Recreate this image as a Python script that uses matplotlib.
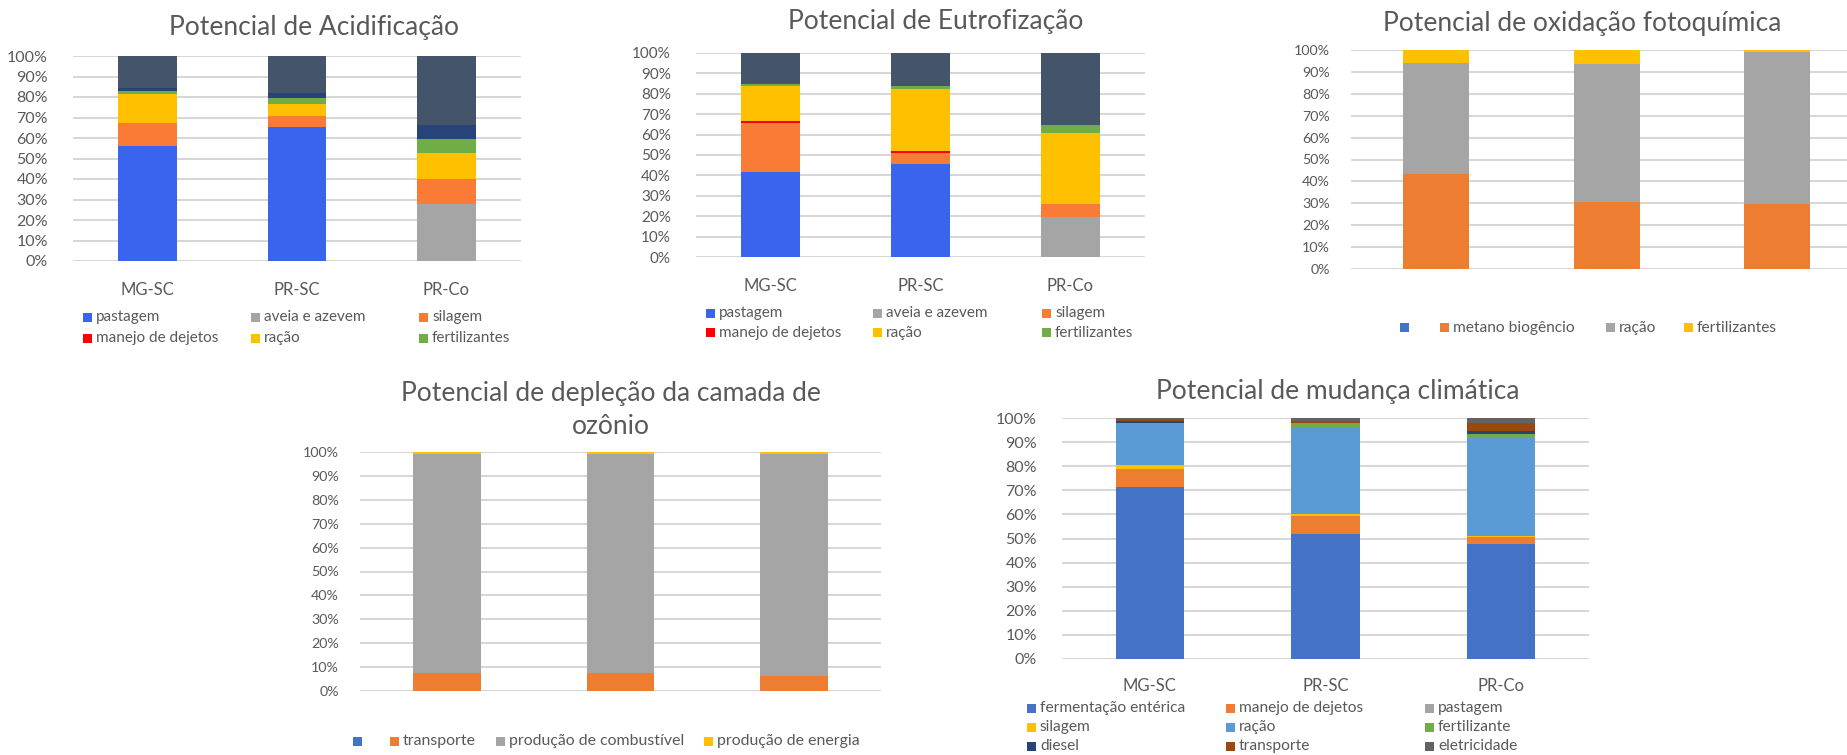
import matplotlib
matplotlib.use("Agg")
import matplotlib.pyplot as plt
from matplotlib.patches import Rectangle
import numpy as np

plt.rcParams['font.family'] = ['Lato', 'DejaVu Sans']

W, H = 1847, 755
TXT = '#595959'
GRID = '#d6d6d6'

categories = ["MG-SC", "PR-SC", "PR-Co"]
pct_ticks = [0, 10, 20, 30, 40, 50, 60, 70, 80, 90, 100]
pct_labels = [f"{t}%" for t in pct_ticks]

# --- Potencial de Acidificação (% contribution) ---
acid_labels = ["pastagem", "aveia e azevem", "silagem", "manejo de dejetos", "ração", "fertilizantes"]
acid_pastagem = [56.1, 65.4, 0.0]
acid_aveia = [0.0, 0.0, 27.9]
acid_silagem = [11.4, 5.4, 12.3]
acid_manejo = [0.0, 0.0, 0.0]
acid_racao = [14.2, 5.8, 12.3]
acid_fertilizantes = [1.3, 2.9, 6.8]
acid_outros_a = [1.2, 2.3, 6.9]
acid_outros_b = [15.8, 18.2, 33.8]

# --- Potencial de Eutrofização ---
eutro_pastagem = [41.7, 45.8, 0.0]
eutro_aveia = [0.0, 0.0, 19.6]
eutro_silagem = [24.0, 5.2, 6.2]
eutro_manejo = [1.0, 1.0, 0.0]
eutro_racao = [17.3, 30.2, 35.0]
eutro_fertilizantes = [0.8, 1.8, 3.7]
eutro_outros = [15.2, 16.0, 35.5]

# --- Potencial de oxidação fotoquímica ---
oxi_labels = ["", "metano biogêncio", "ração", "fertilizantes"]
oxi_vazio = [0.0, 0.0, 0.0]
oxi_metano = [43.3, 30.4, 29.8]
oxi_racao = [50.9, 63.2, 69.1]
oxi_fertilizantes = [5.8, 6.4, 1.1]

# --- Potencial de depleção da camada de ozônio ---
ozo_labels = ["", "transporte", "produção de combustível", "produção de energia"]
ozo_vazio = [0.0, 0.0, 0.0]
ozo_transporte = [7.7, 7.7, 6.3]
ozo_combustivel = [91.3, 91.3, 92.7]
ozo_energia = [1.0, 1.0, 1.0]

# --- Potencial de mudança climática ---
clim_labels = ["fermentação entérica", "manejo de dejetos", "pastagem",
               "silagem", "ração", "fertilizante",
               "diesel", "transporte", "eletricidade"]
clim_fermentacao = [71.2, 52.0, 47.9]
clim_manejo = [7.8, 7.4, 2.7]
clim_pastagem = [0.0, 0.0, 0.0]
clim_silagem = [1.4, 0.6, 0.4]
clim_racao = [17.4, 35.7, 40.8]
clim_fertilizante = [0.0, 2.1, 1.7]
clim_diesel = [0.9, 0.3, 1.0]
clim_transporte = [0.7, 0.7, 3.4]
clim_eletricidade = [0.6, 1.2, 2.1]

fig = plt.figure(figsize=(W / 100, H / 100), dpi=100)


def px_axes(x0, y0, x1, y1):
    """Axes from pixel box (left, top, right, bottom)."""
    return fig.add_axes([x0 / W, 1 - y1 / H, (x1 - x0) / W, (y1 - y0) / H])


def style(ax, ncat, pad, fs=11.5, show_cats=True, cat_fs=12, cat_pad=15):
    ax.set_ylim(0, 100)
    ax.set_xlim(-0.5, ncat - 0.5)
    ax.set_yticks(pct_ticks)
    ax.set_yticklabels(pct_labels, fontsize=fs, color=TXT)
    ax.yaxis.grid(True, color=GRID, linewidth=1.4)
    ax.set_axisbelow(True)
    for s in ax.spines.values():
        s.set_visible(False)
    ax.tick_params(axis='y', length=0, pad=pad)
    ax.tick_params(axis='x', length=0, pad=cat_pad)
    if show_cats:
        ax.set_xticks(range(len(categories)))
        ax.set_xticklabels(categories, fontsize=cat_fs, color=TXT)
    else:
        ax.set_xticks([])


def stack(ax, series, colors, width):
    x = np.arange(len(categories))
    bottom = np.zeros(len(categories))
    for vals, col in zip(series, colors):
        v = np.array(vals, dtype=float)
        ax.bar(x, v, width, bottom=bottom, color=col, linewidth=0, zorder=3)
        bottom += v


def legend_grid(entries, xs, ys, fs, box=9, gap=4):
    ncol = len(xs)
    for i, (label, col) in enumerate(entries):
        r, c = divmod(i, ncol)
        x, y = xs[c], ys[r]
        fig.add_artist(Rectangle((x / W, 1 - (y + box / 2) / H), box / W, box / H,
                                 transform=fig.transFigure, facecolor=col,
                                 edgecolor='none'))
        if label:
            fig.text((x + box + gap) / W, 1 - y / H, label, fontsize=fs,
                     color=TXT, va='center', ha='left')


def title(x, y, s, fs=19):
    fig.text(x / W, 1 - y / H, s, fontsize=fs, color=TXT, ha='center', va='center')


# Panel colours
acid_colors = ['#3b64ee', '#a5a5a5', '#f97b36', '#ff0000', '#ffc000', '#70ad47',
               '#264478', '#44546a']
eutro_colors = ['#3b64ee', '#a5a5a5', '#f97b36', '#ff0000', '#ffc000', '#70ad47',
                '#44546a']
oxi_colors = ['#4472c4', '#ed7d31', '#a5a5a5', '#ffc000']
ozo_colors = ['#4472c4', '#ed7d31', '#a5a5a5', '#ffc000']
clim_colors = ['#4472c4', '#ed7d31', '#a5a5a5', '#ffc000', '#5b9bd5', '#70ad47',
               '#264478', '#9e480e', '#636363']

# 1) Acidificação
ax1 = px_axes(73, 56, 521, 261)
stack(ax1, [acid_pastagem, acid_aveia, acid_silagem, acid_manejo, acid_racao,
            acid_fertilizantes, acid_outros_a, acid_outros_b], acid_colors, 0.395)
style(ax1, 3, pad=18)
title(314, 27, "Potencial de Acidificação")
legend_grid(list(zip(acid_labels, acid_colors[:6])), [83, 251, 419], [317, 338], 11)

# 2) Eutrofização
ax2 = px_axes(696, 53, 1145, 257)
stack(ax2, [eutro_pastagem, eutro_aveia, eutro_silagem, eutro_manejo, eutro_racao,
            eutro_fertilizantes, eutro_outros], eutro_colors, 0.395)
style(ax2, 3, pad=18, fs=11)
title(936, 22, "Potencial de Eutrofização")
legend_grid(list(zip(acid_labels, eutro_colors[:6])), [706, 873, 1042], [313, 333], 11)

# 3) Oxidação fotoquímica (plot area runs past the right edge)
ax3 = px_axes(1351, 50, 2033, 269)
stack(ax3, [oxi_vazio, oxi_metano, oxi_racao, oxi_fertilizantes], oxi_colors, 0.39)
style(ax3, 4, pad=15, fs=10.3, show_cats=False)
title(1582, 23, "Potencial de oxidação fotoquímica")
legend_grid(list(zip(oxi_labels, oxi_colors)), [1400, 1440, 1606, 1684], [328], 11.2)

# 4) Depleção da camada de ozônio
ax4 = px_axes(360, 452, 881, 691)
stack(ax4, [ozo_vazio, ozo_transporte, ozo_combustivel, ozo_energia], ozo_colors, 0.39)
style(ax4, 3, pad=15, fs=10.3, show_cats=False)
title(611, 393, "Potencial de depleção da camada de")
title(611, 427, "ozônio")
legend_grid(list(zip(ozo_labels, ozo_colors)), [353, 390, 496, 704], [741], 11.4)

# 5) Mudança climática
ax5 = px_axes(1062, 418, 1589, 659)
stack(ax5, [clim_fermentacao, clim_manejo, clim_pastagem, clim_silagem, clim_racao,
            clim_fertilizante, clim_diesel, clim_transporte, clim_eletricidade],
      clim_colors, 0.39)
style(ax5, 3, pad=18, fs=11.5, cat_pad=14)
title(1338, 392, "Potencial de mudança climática")
legend_grid(list(zip(clim_labels, clim_colors)), [1027, 1226, 1425], [708, 727, 746], 11.2)

fig.savefig("out.png", dpi=100, facecolor='white')
